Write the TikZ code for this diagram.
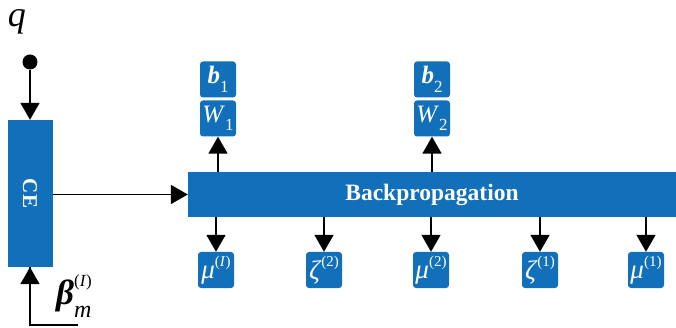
\documentclass[tikz,border=0pt]{standalone}
\usepackage{fontspec}
\setmainfont{Liberation Serif}
\usetikzlibrary{arrows.meta}
\definecolor{boxblue}{RGB}{17,112,185}
\newcommand{\fsz}[1]{\fontsize{#1}{#1}\selectfont}
\newcommand{\supr}[1]{\raisebox{1.0ex}{\fsz{15}#1}}
\newcommand{\subr}[1]{\raisebox{-0.75ex}{\fsz{17}#1}}
\begin{document}
\begin{tikzpicture}[x=1pt,y=-1pt,
  blk/.style={fill=boxblue, draw=none, inner sep=0pt, text=white},
  var/.style={blk, minimum width=36pt, minimum height=36pt, rounded corners=3pt},
  arr/.style={draw=black, line width=1.8pt, -{Triangle[width=19pt,length=17pt]}},
]
\useasboundingbox (0,0) rectangle (676,328);

% input q
\node[anchor=base, inner sep=0pt] (q) at (17,27) {\fsz{36}\textit{q}};
\node[circle, fill=black, inner sep=0pt, minimum size=15pt] (src) at (30,62) {};

% cross-entropy block
\node[blk, minimum width=45pt, minimum height=147pt] (ce) at (30,193.5)
  {\rotatebox{-90}{\fsz{21}\bfseries CE}};

% backpropagation block
\node[blk, minimum width=488pt, minimum height=45pt] (bp) at (432,194.5)
  {\fsz{23.5}\bfseries Backpropagation};

% weights and biases
\node[var] (b1) at (218,79.5) {\fsz{25}\textbf{\textit{b}}\subr{1}};
\node[var] (w1) at (218,118.5) {\fsz{25}\textit{W}\subr{1}};
\node[var] (b2) at (432,79.5) {\fsz{25}\textbf{\textit{b}}\subr{2}};
\node[var] (w2) at (432,118.5) {\fsz{25}\textit{W}\subr{2}};

% outputs of backpropagation
\node[var] (m1) at (216,270) {\fsz{27}\textit{μ}\supr{(\textit{I})}};
\node[var] (z2) at (324,270) {\fsz{27}\textit{ζ}\supr{(2)}};
\node[var] (m2) at (431,270) {\fsz{27}\textit{μ}\supr{(2)}};
\node[var] (z1) at (540,270) {\fsz{27}\textit{ζ}\supr{(1)}};
\node[var] (m3) at (646,270) {\fsz{27}\textit{μ}\supr{(1)}};

% beta input label
\node[anchor=base west, inner sep=0pt] (beta) at (56,304)
  {\fsz{35}\textbf{\textit{β}}\makebox[0pt][l]{\raisebox{0.5em}{\fsz{17}(\textit{I})}}\raisebox{-0.38em}{\fsz{24}\textit{m}}};
\coordinate (bin) at (78,325);

% connectors
\draw[arr] (src) -- (ce.north);
\draw[line width=1.8pt] (bin) -| (ce.south);
\draw[arr] (ce.south |- bin) -- (ce.south);
\draw[arr] (ce.east |- bp.west) -- (bp.west);
\draw[arr] (bp.north -| w1) -- (w1.south);
\draw[arr] (bp.north -| w2) -- (w2.south);
\foreach \n in {m1,z2,m2,z1,m3}
  \draw[arr] (bp.south -| \n) -- (\n.north);
\end{tikzpicture}
\end{document}
